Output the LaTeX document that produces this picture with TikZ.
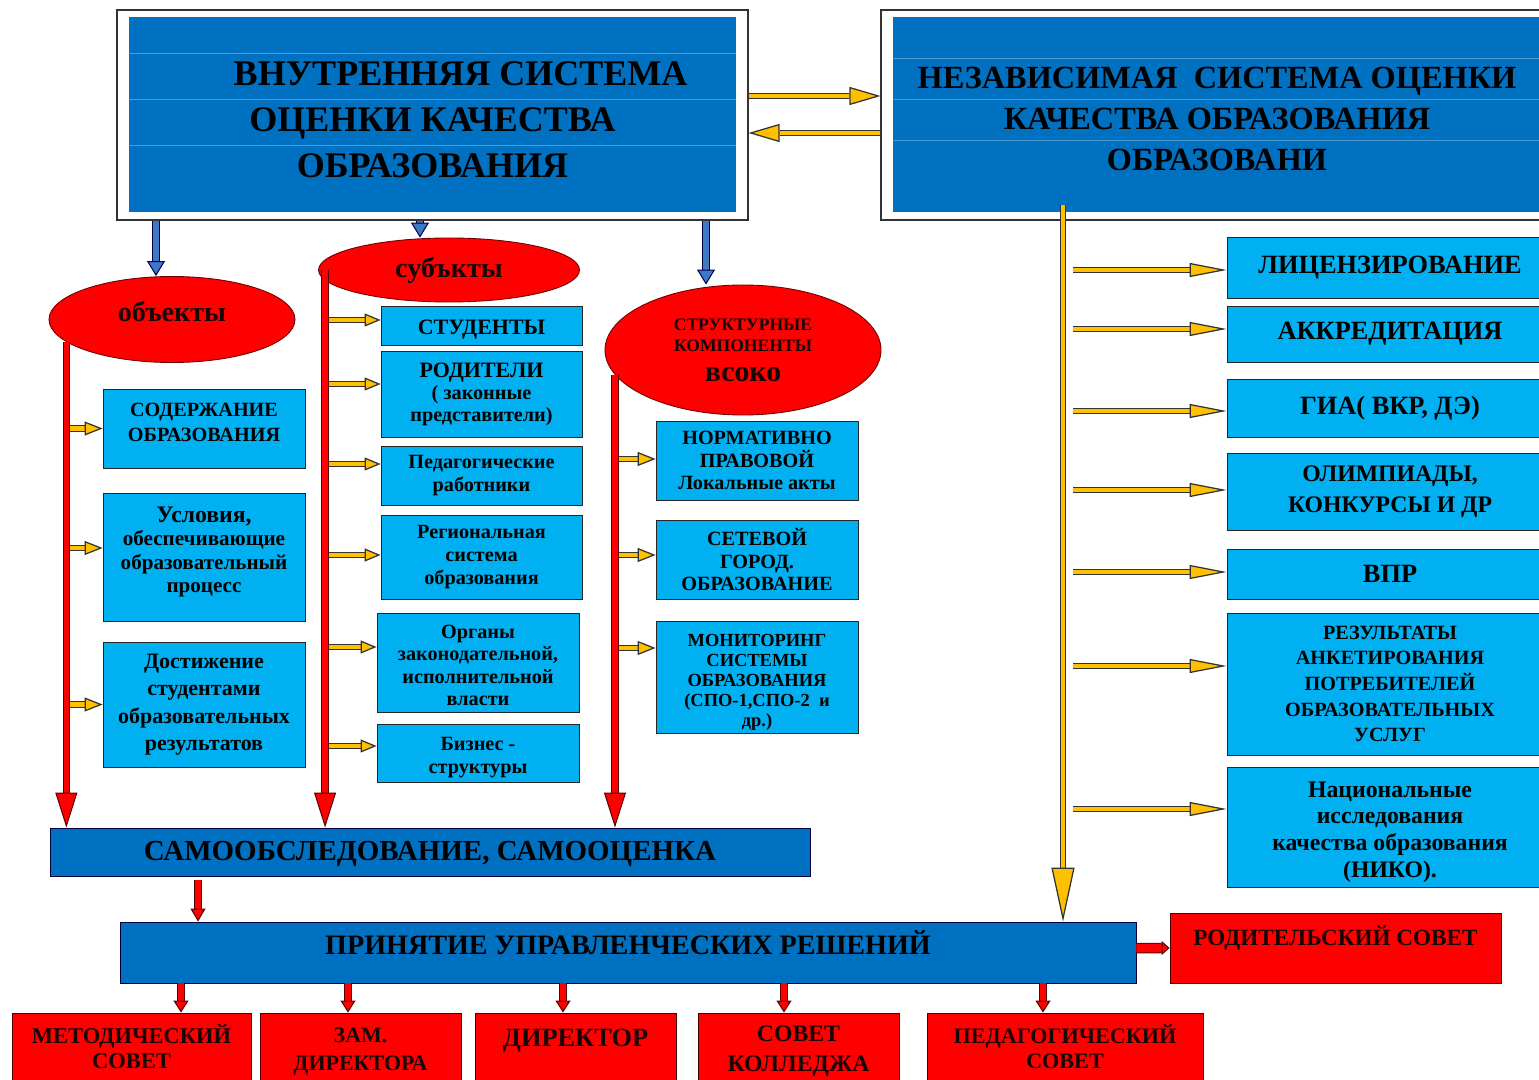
\documentclass[tikz,border=0pt]{standalone}
\usepackage{fontspec}
\setmainfont{Liberation Serif}
\usetikzlibrary{arrows.meta,positioning,shapes.geometric}

\definecolor{deepblue}{HTML}{0070C0}
\definecolor{skyblue}{HTML}{00B0F0}
\definecolor{signred}{HTML}{FF0000}
\definecolor{amber}{HTML}{FFC000}
\definecolor{steelblue}{HTML}{3F78C4}
\definecolor{darktext}{HTML}{1A0505}

\newcommand{\fsz}[2]{\fontsize{#1}{#2}\selectfont\bfseries}

\begin{document}
\begin{tikzpicture}[
  x=0.2mm, y=-0.2mm, font=\bfseries,
  sz/.style 2 args={minimum width=#1*0.2mm, minimum height=#2*0.2mm},
  frame/.style={draw=black!80, fill=white, line width=0.6pt, inner sep=0pt},
  hbox/.style={fill=deepblue, align=center, inner sep=0pt, text=black},
  cbox/.style={draw=black!85, fill=skyblue, line width=0.5pt, align=center, inner sep=1pt, text=black},
  dbox/.style={draw=blue!25!black, fill=deepblue, line width=0.5pt, align=center, inner sep=1pt, text=black},
  rbox/.style={draw=red!30!black, fill=signred, line width=0.5pt, align=center, inner sep=1pt, text=darktext},
  oval/.style={ellipse, draw=red!45!black, fill=signred, line width=0.5pt, inner sep=0pt, align=center, text=darktext},
  rowline/.style={draw=deepblue!70!white, line width=0.4pt},
  yarr/.style 2 args={draw=amber, line width=0.9mm,
    preaction={draw=black!80, line width=1.35mm, arrows=-, shorten >=#1},
    -{Triangle[length=#1, width=#2, fill=amber, color=black!80, line width=0.25mm]}},
  rarr/.style 2 args={draw=signred, line width=1.05mm,
    preaction={draw=red!35!black, line width=1.45mm, arrows=-, shorten >=#1},
    -{Triangle[length=#1, width=#2, fill=signred, color=red!35!black, line width=0.2mm]}},
  rstub/.style={draw=signred, line width=1.7mm,
    preaction={draw=red!35!black, line width=2.1mm, arrows=-, shorten >=1.6mm},
    -{Triangle[length=1.6mm, width=2.8mm, fill=signred, color=red!35!black, line width=0.2mm]}},
  barr/.style 2 args={draw=steelblue, line width=1.3mm,
    preaction={draw=blue!30!black, line width=1.75mm, arrows=-, shorten >=#1},
    -{Triangle[length=#1, width=#2, fill=steelblue, color=blue!30!black, line width=0.2mm]}}
]
\useasboundingbox (0,0) rectangle (1539,1080);
\clip (0,0) rectangle (1539,1080);

% Two systems at the top
\node[frame, sz={631}{210}] (ivnframe) at (432.5,115) {};
\node[hbox, sz={607}{195}, font=\fsz{20.5}{26}] (ivn) at (432.5,115)
     {\rule{0pt}{19.2pt}\hspace*{32pt}ВНУТРЕННЯЯ СИСТЕМА\\ОЦЕНКИ КАЧЕСТВА\\ОБРАЗОВАНИЯ};
\foreach \d in {7.2,16.4,25.6}
  \draw[rowline] ([yshift=-\d mm]ivn.north west) -- ([yshift=-\d mm]ivn.north east);

\node[frame, sz={680}{210}] (indframe) at (1221,115) {};
\node[hbox, sz={648}{195}, font=\fsz{18.4}{23.5}] (ind) at (1217,115)
     {\rule{0pt}{16.6pt}НЕЗАВИСИМАЯ\ \ СИСТЕМА ОЦЕНКИ\\КАЧЕСТВА ОБРАЗОВАНИЯ\\ОБРАЗОВАНИ};
\foreach \d in {8.2,16.4,24.6}
  \draw[rowline] ([yshift=-\d mm]ind.north west) -- ([yshift=-\d mm]ind.north east);

% Ovals
\node[oval, sz={246}{86}, font=\fsz{16}{18}, text depth=9pt] (obj) at (172,319.5) {объекты};
\node[oval, sz={261}{64}, font=\fsz{16}{18}] (subj) at (449,270) {субъкты};
\node[oval, sz={276}{130}] (vsoko) at (743,350)
     {\fsz{10}{11.5}СТРУКТУРНЫЕ\\КОМПОНЕНТЫ\\[5pt]\fsz{17}{18}всоко};

% Objects
\node[cbox, sz={202}{79}, font=\fsz{11.5}{14.5}, text depth=6.8pt] (ob1) at (204,428.5) {СОДЕРЖАНИЕ\\ОБРАЗОВАНИЯ};
\node[cbox, sz={202}{128}, font=\fsz{12}{13.2}, text depth=8.3pt] (ob2) at (204,557)
     {{\fsz{13.5}{13.2}Условия,}\\обеспечивающие\\образовательный\\процесс};
\node[cbox, sz={202}{125}, font=\fsz{12.5}{15.6}] (ob3) at (204,704.5)
     {Достижение\\студентами\\образовательных\\результатов};

% Subjects
\node[cbox, sz={201}{39}, font=\fsz{12.5}{14}, text height=13pt] (s1) at (481.5,325.5) {СТУДЕНТЫ};
\node[cbox, sz={201}{86}, font=\fsz{11.5}{12.5}] (s2) at (481.5,394)
     {{\fsz{12.5}{12.5}РОДИТЕЛИ}\\( законные\\представители)};
\node[cbox, sz={201}{59}, font=\fsz{11.5}{13}] (s3) at (481.5,475.5) {Педагогические\\работники};
\node[cbox, sz={201}{84}, font=\fsz{11.5}{13}] (s4) at (481.5,557) {Региональная\\система\\образования};
\node[cbox, sz={202}{99}, font=\fsz{11.5}{12.8}] (s5) at (478,662.5)
     {\rule{0pt}{11pt}Органы\\законодательной,\\исполнительной\\власти};
\node[cbox, sz={202}{58}, font=\fsz{11.5}{13}] (s6) at (478,753) {\rule{0pt}{12.6pt}Бизнес -\\структуры};

% Structural components
\node[cbox, sz={202}{79}, font=\fsz{11.5}{13}] (v1) at (757,460.5) {НОРМАТИВНО\\ПРАВОВОЙ\\Локальные акты};
\node[cbox, sz={202}{79}, font=\fsz{11.5}{12.8}] (v2) at (757,559.5) {СЕТЕВОЙ\\ГОРОД.\\ОБРАЗОВАНИЕ};
\node[cbox, sz={202}{112}, font=\fsz{10.5}{11.4}] (v3) at (757,677)
     {\rule{0pt}{12.7pt}МОНИТОРИНГ\\СИСТЕМЫ\\ОБРАЗОВАНИЯ\\(СПО-1,СПО-2\ \ и\\др.)};

% Independent assessment
\node[cbox, sz={326}{61}, font=\fsz{15}{17}] (n1) at (1390,267.5) {ЛИЦЕНЗИРОВАНИЕ};
\node[cbox, sz={326}{56}, font=\fsz{15}{17}] (n2) at (1390,334) {АККРЕДИТАЦИЯ};
\node[cbox, sz={326}{58}, font=\fsz{15}{17}] (n3) at (1390,408) {ГИА( ВКР, ДЭ)};
\node[cbox, sz={326}{77}, font=\fsz{13.5}{17.6}] (n4) at (1390,491.5) {ОЛИМПИАДЫ,\\КОНКУРСЫ И ДР};
\node[cbox, sz={326}{50}, font=\fsz{15}{17}] (n5) at (1390,574) {ВПР};
\node[cbox, sz={326}{142}, font=\fsz{11.5}{14.6}] (n6) at (1390,684)
     {РЕЗУЛЬТАТЫ\\АНКЕТИРОВАНИЯ\\ПОТРЕБИТЕЛЕЙ\\ОБРАЗОВАТЕЛЬНЫХ\\УСЛУГ};
\node[cbox, sz={326}{120}, font=\fsz{13.5}{15.2}] (n7) at (1390,827)
     {\rule{0pt}{14.6pt}Национальные\\исследования\\качества образования\\(НИКО).};

% Self-assessment and decisions
\node[dbox, sz={760}{48}, font=\fsz{16.5}{18}, text height=13pt] (samo) at (430,852) {САМООБСЛЕДОВАНИЕ, САМООЦЕНКА};
\node[dbox, sz={1016}{61}, font=\fsz{16}{18}, text depth=11.4pt] (dec) at (628,952.5) {ПРИНЯТИЕ УПРАВЛЕНЧЕСКИХ РЕШЕНИЙ};
\node[rbox, sz={331}{70}, font=\fsz{13.2}{16}, text depth=5mm] (rodsov) at (1335.5,948) {РОДИТЕЛЬСКИЙ СОВЕТ};

\node[rbox, sz={239}{77}, font=\fsz{12.8}{14.5}, text depth=5.7pt] (m1) at (131.5,1051.5) {МЕТОДИЧЕСКИЙ\\СОВЕТ};
\node[rbox, sz={201}{77}, font=\fsz{12.5}{15.5}] (m2) at (360.5,1051.5) {ЗАМ.\\ДИРЕКТОРА};
\node[rbox, sz={201}{77}, font=\fsz{15}{17}, text depth=5.6mm] (m3) at (575.5,1051.5) {ДИРЕКТОР};
\node[rbox, sz={201}{77}, font=\fsz{13.5}{17}] (m4) at (798.5,1051.5) {СОВЕТ\\КОЛЛЕДЖА};
\node[rbox, sz={276}{77}, font=\fsz{12.6}{14.5}, text depth=5.7pt] (m5) at (1065,1051.5) {ПЕДАГОГИЧЕСКИЙ\\СОВЕТ};

% Edges
\draw[yarr={6.2mm}{3.6mm}] ([yshift=3.8mm]ivnframe.east) -- ([yshift=3.8mm]indframe.west);
\draw[yarr={6.2mm}{3.6mm}] ([yshift=-3.6mm]indframe.west) -- ([yshift=-3.6mm]ivnframe.east);

\coordinate (bo) at (156,0);
\coordinate (bs) at (420,0);
\coordinate (bv) at (706,0);
\foreach \c/\e in {bo/obj,bs/subj,bv/vsoko}
  \draw[barr={3mm}{3.6mm}] (\c |- ivnframe.south) -- (\c |- \e.north);

\coordinate (sl) at ([xshift=1.4mm]subj.west);
\foreach \b/\dy in {ob1/0,ob2/1.8,ob3/0}
  \draw[yarr={3.6mm}{2.8mm}] ([yshift=\dy mm]obj.192 |- \b.west) -- ([yshift=\dy mm]\b.west);
\foreach \b/\dy in {s1/1.1,s2/2,s3/2.3,s4/0.4,s5/3.1,s6/1.4}
  \draw[yarr={3.2mm}{2.6mm}] ([xshift=-0.8mm, yshift=\dy mm]sl |- \b.west) -- ([yshift=\dy mm]\b.west);
\foreach \b/\dy in {v1/0.3,v2/0.9,v3/5.8}
  \draw[yarr={3.6mm}{2.8mm}] ([yshift=\dy mm]vsoko.191 |- \b.west) -- ([yshift=\dy mm]\b.west);

\draw[rarr={7mm}{4.4mm}] (obj.192) -- (obj.192 |- samo.north);
\draw[rarr={7mm}{4.4mm}] (sl) -- (sl |- samo.north);
\draw[rarr={7mm}{4.4mm}] (vsoko.191) -- (vsoko.191 |- samo.north);

\coordinate (ystart) at (1063,205);
\coordinate (ybranch) at (1073,205);
\draw[yarr={10.8mm}{4.6mm}] (ystart) -- (ystart |- dec.north);
\foreach \b/\dy in {n1/-0.5,n2/1,n3/-0.6,n4/0.3,n5/0.4,n6/3.6,n7/3.6}
  \draw[yarr={7.4mm}{2.8mm}] ([yshift=\dy mm]ybranch |- \b.west) -- ([yshift=\dy mm]\b.west);

\coordinate (sd) at (198,0);
\draw[rarr={2.6mm}{3mm}] ([yshift=-0.8mm]sd |- samo.south) -- (sd |- dec.north);
\draw[rstub] ([yshift=0.9mm]dec.east) -- (rodsov.west);
\foreach \x/\b in {181/m1,348/m2,563/m3,784/m4,1043/m5} {
  \coordinate (d\b) at (\x,0);
  \draw[rarr={2.4mm}{3mm}] (d\b |- dec.south) -- (d\b |- \b.north);
}
\end{tikzpicture}
\end{document}
